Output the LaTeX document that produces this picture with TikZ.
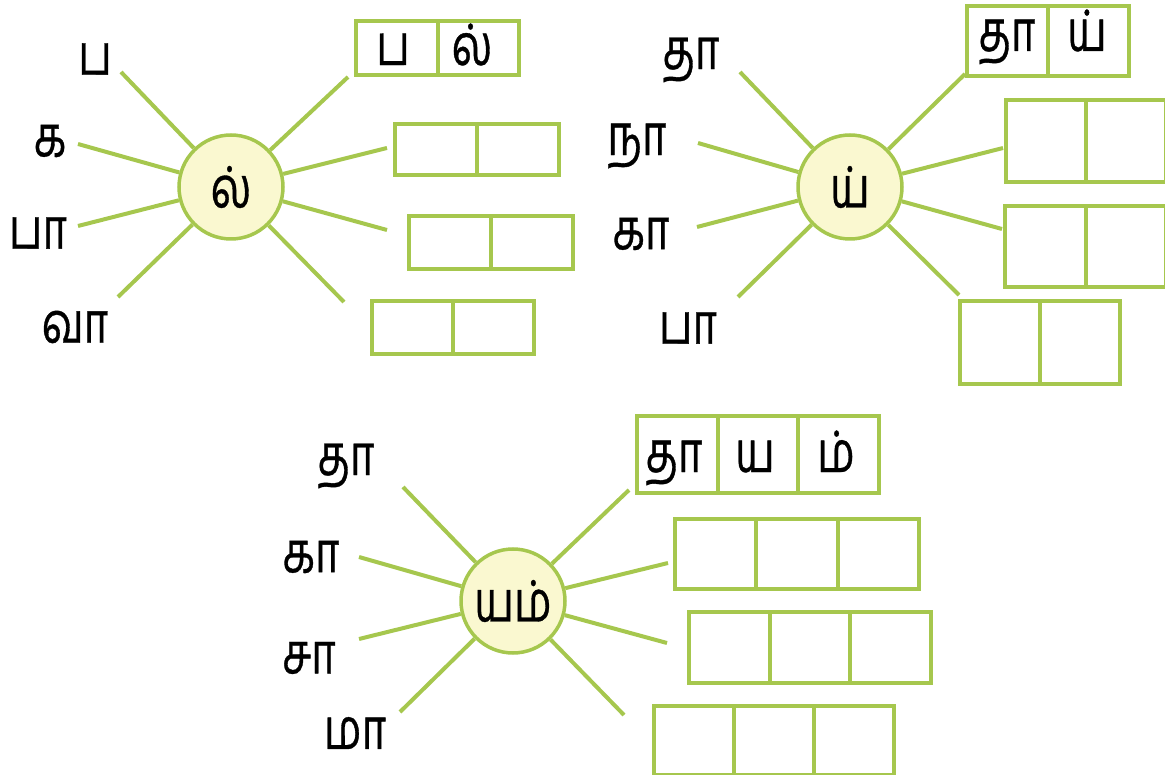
\documentclass[tikz,border=0pt]{standalone}
\usepackage{fontspec}
\newfontfamily\tamil[Script=Tamil,FakeBold=0.6,FakeStretch=0.74]{Hind Madurai}
\definecolor{leaf}{RGB}{166,199,78}
\definecolor{cream}{RGB}{250,248,208}
\newcommand\mkrow[6]{% name, x, y, cell width, height, count
  \foreach \i in {1,...,#6} {
    \node[cell, minimum width=#4pt, minimum height=#5pt, anchor=north west]
      (#1\i) at ({#2+(\i-1)*#4},#3) {};
  }}
\begin{document}
\begin{tikzpicture}[x=1pt,y=-1pt,
  hub/.style={circle, draw=leaf, fill=cream, line width=3.5pt, minimum size=104pt,
    inner sep=0pt, font=\tamil\fontsize{57}{57}\selectfont},
  ray/.style={draw=leaf, line width=4pt},
  lbl/.style={inner sep=0pt, font=\tamil\fontsize{57}{57}\selectfont},
  cell/.style={draw=leaf, line width=4pt, inner sep=0pt}]
\useasboundingbox (0,0) rectangle (1165,775);

% ---------- diagram 1 ----------
\node[hub] (h1) at (231,187) {ல்};
\node[lbl] (a1) at (95,59) {ப};
\node[lbl] (a2) at (50,141) {க};
\node[lbl] (a3) at (38,233) {பா};
\node[lbl] (a4) at (75,327) {வா};
\coordinate (al1) at (121,72);
\coordinate (al2) at (78,144);
\coordinate (al3) at (78,226);
\coordinate (al4) at (118,297);
\coordinate (ar1) at (348,77);
\coordinate (ar2) at (387,148);
\coordinate (ar3) at (387,230);
\coordinate (ar4) at (344,302);
\foreach \c in {al1,al2,al3,al4,ar1,ar2,ar3,ar4} \draw[ray] (h1) -- (\c);
\mkrow{ab1}{354}{19}{81.5}{54}{2}
\mkrow{ab2}{393}{122}{82}{51}{2}
\mkrow{ab3}{407}{214}{82}{53}{2}
\mkrow{ab4}{370}{299}{81}{53}{2}
\node[lbl, anchor=base] (at1) at (393,65) {ப};
\node[lbl, anchor=base] (at2) at (472,65) {ல்};

% ---------- diagram 2 ----------
\node[hub] (h2) at (850,187) {ய்};
\node[lbl] (b1) at (691,60) {தா};
\node[lbl] (b2) at (637,146) {நா};
\node[lbl] (b3) at (641,234) {கா};
\node[lbl] (b4) at (688,328) {பா};
\coordinate (bl1) at (740,72);
\coordinate (bl2) at (698,143);
\coordinate (bl3) at (697,227);
\coordinate (bl4) at (738,297);
\coordinate (br1) at (965,74);
\coordinate (br2) at (1003,148);
\coordinate (br3) at (1002,229);
\coordinate (br4) at (959,295);
\foreach \c in {bl1,bl2,bl3,bl4,br1,br2,br3,br4} \draw[ray] (h2) -- (\c);
\mkrow{bb1}{965}{4}{81}{70}{2}
\mkrow{bb2}{1004}{98}{80}{82}{2}
\mkrow{bb3}{1003}{204}{80.5}{81}{2}
\mkrow{bb4}{958}{299}{80}{83}{2}
\node[lbl, anchor=base] (bt1) at (1007,51) {தா};
\node[lbl, anchor=base] (bt2) at (1087,51) {ய்};

% ---------- diagram 3 ----------
\node[hub] (h3) at (513,601) {யம்};
\node[lbl] (c1) at (346,466) {தா};
\node[lbl] (c2) at (311,557) {கா};
\node[lbl] (c3) at (309,658) {சா};
\node[lbl] (c4) at (355,733) {மா};
\coordinate (cl1) at (403,487);
\coordinate (cl2) at (359,557);
\coordinate (cl3) at (359,639);
\coordinate (cl4) at (400,712);
\coordinate (cr1) at (629,490);
\coordinate (cr2) at (668,563);
\coordinate (cr3) at (667,643);
\coordinate (cr4) at (624,715);
\foreach \c in {cl1,cl2,cl3,cl4,cr1,cr2,cr3,cr4} \draw[ray] (h3) -- (\c);
\mkrow{cb1}{635}{414}{80.7}{77}{3}
\mkrow{cb2}{673}{517}{81.3}{70}{3}
\mkrow{cb3}{687}{610}{80.7}{71}{3}
\mkrow{cb4}{652}{704}{80}{69}{3}
\node[lbl, anchor=base] (ct1) at (674,472) {தா};
\node[lbl, anchor=base] (ct2) at (755,472) {ய};
\node[lbl, anchor=base] (ct3) at (836,472) {ம்};
\end{tikzpicture}
\end{document}
